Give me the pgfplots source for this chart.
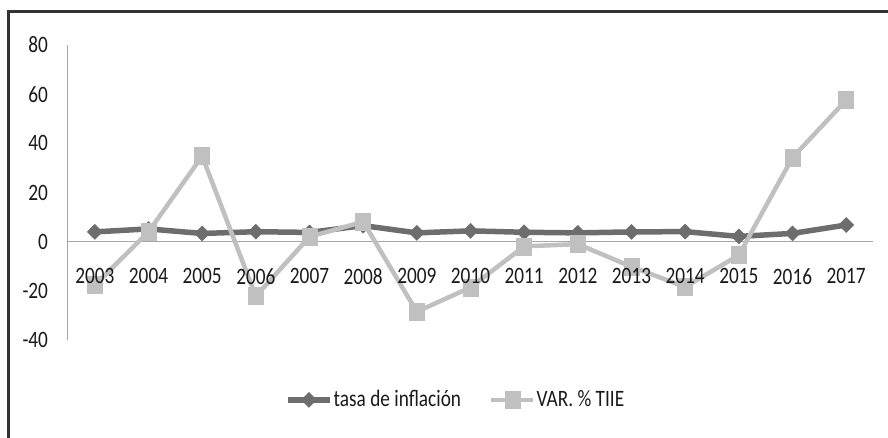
\documentclass[border=0pt]{standalone}
\usepackage{fontspec}
\setmainfont{Carlito}[FakeStretch=0.82]
\usepackage{pgfplots}
\pgfplotsset{compat=1.18}
\definecolor{infl}{HTML}{6D6D6D}
\definecolor{tiie}{HTML}{C0C0C0}
\definecolor{axisgray}{HTML}{A6A6A6}
\definecolor{frame}{HTML}{333333}
\pgfplotsset{base/.style={at={(0,0)}, anchor=south west, scale only axis,
  width=805pt, height=295pt,
  xmin=-0.5, xmax=14.5, ymin=-40, ymax=80,
  hide obscured x ticks=false, hide obscured y ticks=false,
  xtick={0,1,2,3,4,5,6,7,8,9,10,11,12,13,14},
  ytick={-40,-20,0,20,40,60,80},
  major tick length=0pt,
  /pgf/number format/assume math mode=true,
  tick label style={font=\fontsize{23.5}{28}\selectfont, text=black!90},
  xticklabel style={anchor=center, yshift=-34.5pt},
  yticklabel style={anchor=east, xshift=-12pt}}}
\begin{document}
\fontsize{23.5}{28}\selectfont
\begin{tikzpicture}[x=1pt,y=1pt]
\useasboundingbox (-68,-98) rectangle (820,340);
\draw[line width=3pt, color=frame] (-59,-120) -- (-59,328) -- (840,328);
\begin{axis}[base,
  axis x line=middle, axis y line=left,
  axis line style={axisgray, line width=1pt, -},
  xticklabels={},
  legend style={at={(0.481,-0.203)}, anchor=center, draw=none, fill=none,
    legend columns=2, font=\fontsize{23.5}{28}\selectfont,
    /tikz/every even column/.append style={column sep=27pt},
    nodes={inner sep=1pt, text=black!90}},
  legend image code/.code={\draw[mark repeat=2,mark phase=2,#1] plot coordinates {(0pt,0pt) (21pt,0pt) (42pt,0pt)};},
]
\addplot[color=infl, line width=5.5pt, mark=square*, mark size=5.3pt,
  mark options={solid, rotate=45, fill=infl, draw=infl, line width=0.5pt}]
  coordinates {(0,3.98) (1,5.19) (2,3.33) (3,4.05) (4,3.76) (5,6.53) (6,3.57) (7,4.40) (8,3.82) (9,3.57) (10,3.97) (11,4.08) (12,2.13) (13,3.36) (14,6.77)};
\addlegendentry{tasa de inflación}
\addplot[color=tiie, line width=4.5pt, mark=square*, mark size=8.5pt,
  mark options={solid, xscale=0.88, fill=tiie, draw=tiie, line width=0.5pt}]
  coordinates {(0,-17.7) (1,4.0) (2,34.8) (3,-22.2) (4,2.0) (5,8.1) (6,-28.5) (7,-18.6) (8,-1.9) (9,-1.0) (10,-10.2) (11,-18.4) (12,-5.5) (13,34.2) (14,57.6)};
\addlegendentry{VAR. \% TIIE}
\end{axis}
\begin{axis}[base,
  axis x line=middle, axis y line=none,
  axis line style={draw=none, -},
  xticklabels={2003,2004,2005,2006,2007,2008,2009,2010,2011,2012,2013,2014,2015,2016,2017},
]
\end{axis}
\end{tikzpicture}
\end{document}
